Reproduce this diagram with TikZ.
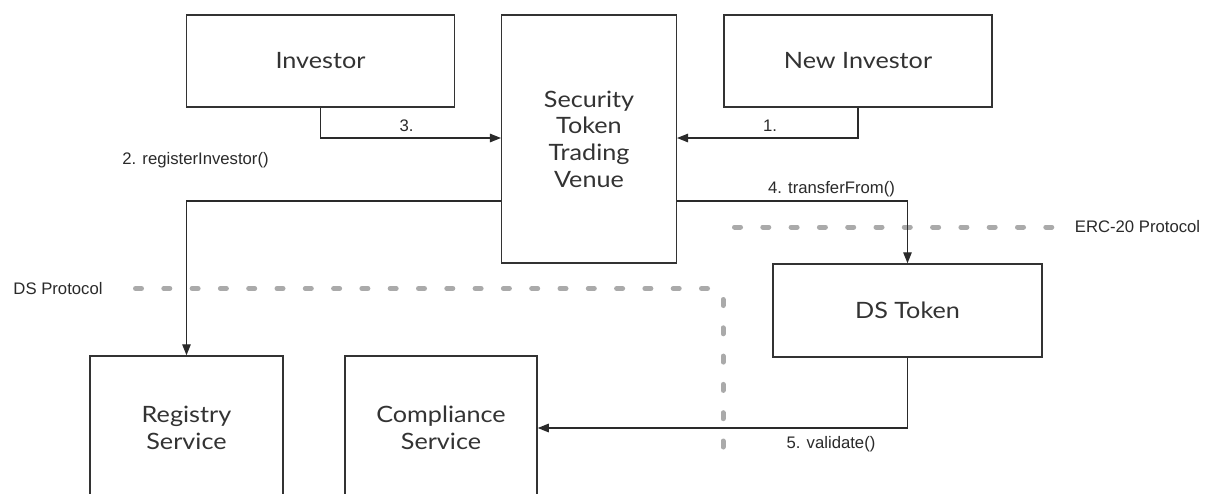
\documentclass[tikz,border=0pt]{standalone}
\usepackage{fontspec}
\usetikzlibrary{arrows.meta}
\newfontfamily\boxfont[FakeStretch=1.12]{Lato}
\newfontfamily\lblfont{Liberation Sans}
\definecolor{edge}{HTML}{333333}
\definecolor{ink}{HTML}{2A2A2A}
\definecolor{proto}{HTML}{AAAAAA}
\tikzset{
  comp/.style={draw=edge, line width=1.5pt, inner sep=0pt, align=center,
    text=edge, font=\boxfont\fontsize{22.5}{26.7}\selectfont},
  conn/.style={draw=ink, line width=1.3pt, -{Triangle[length=11pt,width=8.5pt]}},
  lbl/.style={text=ink, inner sep=0pt, font=\lblfont\fontsize{16.7}{20}\selectfont},
  boundary/.style={draw=proto, line width=5pt, line cap=round, dash pattern=on 6pt off 22.3pt}
}
\begin{document}
\begin{tikzpicture}[x=1pt, y=-1pt]
\useasboundingbox (0,0) rectangle (1208,493);
\clip (0,0) rectangle (1208,493);
\fill[white] (0,0) rectangle (1208,493);

% components
\node[comp, minimum width=267.6pt, minimum height=92pt] (inv) at (320.5,61) {Investor};
\node[comp, minimum width=268pt, minimum height=92pt] (newinv) at (858,61) {New Investor};
\node[comp, minimum width=174.6pt, minimum height=248pt] (venue) at (589,139) {Security\\Token\\Trading\\Venue};
\node[comp, minimum width=269pt, minimum height=93pt] (ds) at (907.5,310.5) {DS Token};
\node[comp, minimum width=193pt, minimum height=144pt] (reg) at (186.5,428) {Registry\\Service};
\node[comp, minimum width=192pt, minimum height=144pt] (compl) at (441,428) {Compliance\\Service};

% levels of the elbow connectors
\coordinate (yin) at (0,138);
\coordinate (yout) at (0,201);

% protocol boundaries
\draw[boundary] (135.5,288.5) -- (708,288.5);
\draw[boundary] (723,299.5) -- (723,447);
\draw[boundary] (734.5,227) -- (1052,227);

% messages
\draw[conn] (inv.south) |- (venue.west |- yin);
\draw[conn] (newinv.south) |- (venue.east |- yin);
\draw[conn] (venue.west |- yout) -| (reg.north);
\draw[conn] (venue.east |- yout) -| (ds.north);
\draw[conn] (ds.south) |- (compl.east);

% labels
\node[lbl] (l3) at (406.5,125.5) {3.};
\node[lbl] (l1) at (770,125.5) {1.};
\node[lbl] (l2) at (195.5,160) {2. registerInvestor()};
\node[lbl] (l4) at (831.5,189) {4. transferFrom()};
\node[lbl] (l5) at (831,444.5) {5. validate()};
\node[lbl] (pds) at (58,289) {DS Protocol};
\node[lbl] (perc) at (1137.5,227) {ERC-20 Protocol};
\end{tikzpicture}
\end{document}
